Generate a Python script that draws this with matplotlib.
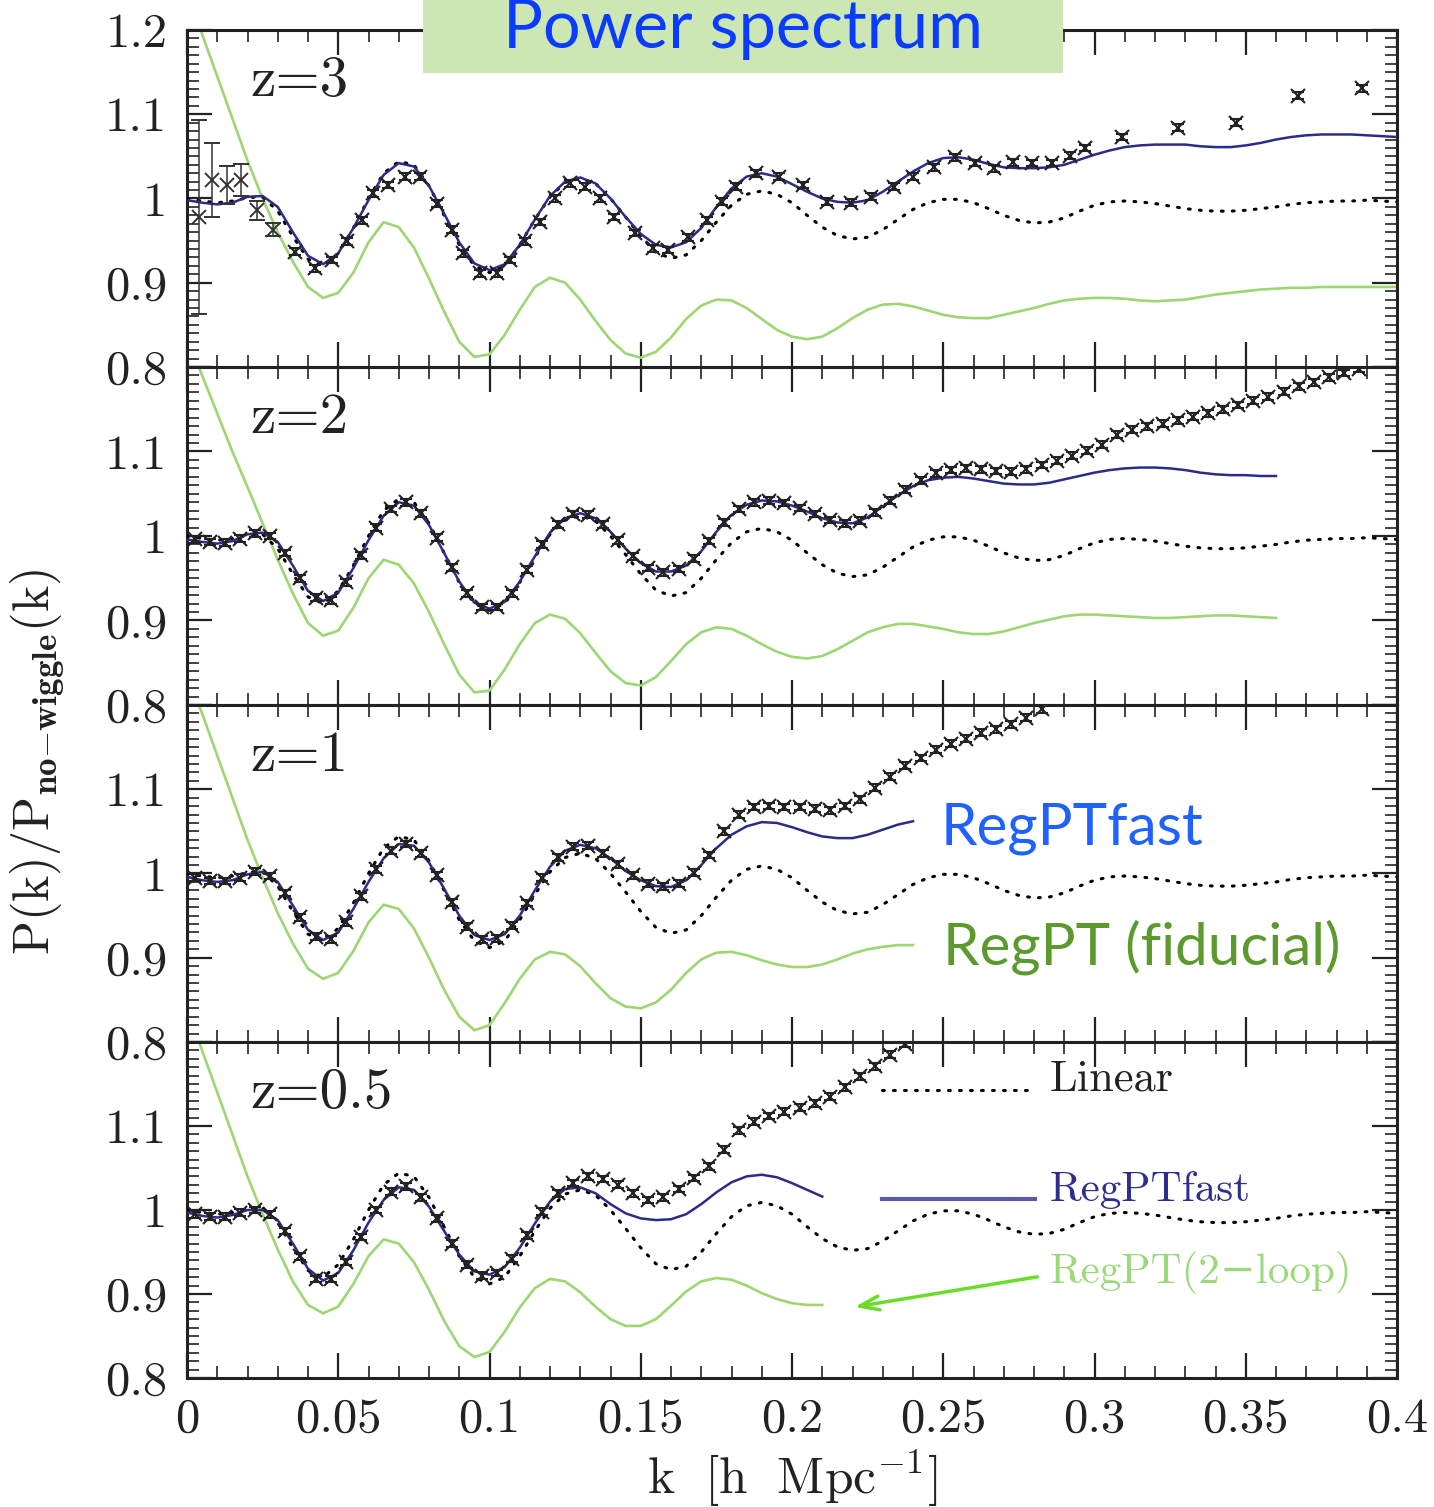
import matplotlib
matplotlib.use("Agg")
import matplotlib.pyplot as plt
from matplotlib.patches import Rectangle
from matplotlib.ticker import MultipleLocator, FixedLocator, FixedFormatter

plt.rcParams['mathtext.fontset'] = 'cm'
plt.rcParams['font.family'] = ['cmr10', 'DejaVu Serif']
plt.rcParams['axes.unicode_minus'] = False

# ---------------- data ----------------
K_GRID = [0.000, 0.005, 0.010, 0.015, 0.020, 0.025, 0.030, 0.035, 0.040, 0.045,
          0.050, 0.055, 0.060, 0.065, 0.070, 0.075, 0.080, 0.085, 0.090, 0.095,
          0.100, 0.105, 0.110, 0.115, 0.120, 0.125, 0.130, 0.135, 0.140, 0.145,
          0.150, 0.155, 0.160, 0.165, 0.170, 0.175, 0.180, 0.185, 0.190, 0.195,
          0.200, 0.205, 0.210, 0.215, 0.220, 0.225, 0.230, 0.235, 0.240, 0.245,
          0.250, 0.255, 0.260, 0.265, 0.270, 0.275, 0.280, 0.285, 0.290, 0.295,
          0.300, 0.305, 0.310, 0.315, 0.320, 0.325, 0.330, 0.335, 0.340, 0.345,
          0.350, 0.355, 0.360, 0.365, 0.370, 0.375, 0.380, 0.385, 0.390, 0.395,
          0.400]

D_GRID = [0.0025, 0.0075, 0.0125, 0.0175, 0.0225, 0.0275, 0.0325, 0.0375, 0.0425, 0.0475,
          0.0525, 0.0575, 0.0625, 0.0675, 0.0725, 0.0775, 0.0825, 0.0875, 0.0925, 0.0975,
          0.1025, 0.1075, 0.1125, 0.1175, 0.1225, 0.1275, 0.1325, 0.1375, 0.1425, 0.1475,
          0.1525, 0.1575, 0.1625, 0.1675, 0.1725, 0.1775, 0.1825, 0.1875, 0.1925, 0.1975,
          0.2025, 0.2075, 0.2125, 0.2175, 0.2225, 0.2275, 0.2325, 0.2375, 0.2425, 0.2475,
          0.2525, 0.2575, 0.2625, 0.2675, 0.2725, 0.2775, 0.2825, 0.2875, 0.2925, 0.2975,
          0.3025, 0.3075, 0.3125, 0.3175, 0.3225, 0.3275, 0.3325, 0.3375, 0.3425, 0.3475,
          0.3525, 0.3575, 0.3625, 0.3675, 0.3725, 0.3775, 0.3825, 0.3875, 0.3925, 0.3975]

LINEAR = [1.000, 0.997, 0.995, 0.997, 1.001, 1.002, 0.985, 0.955, 0.928, 0.920,
          0.935, 0.965, 1.000, 1.030, 1.044, 1.040, 1.015, 0.980, 0.945, 0.920,
          0.912, 0.920, 0.945, 0.975, 1.002, 1.019, 1.024, 1.018, 1.000, 0.978,
          0.955, 0.936, 0.929, 0.933, 0.950, 0.972, 0.992, 1.005, 1.009, 1.005,
          0.995, 0.980, 0.966, 0.956, 0.952, 0.954, 0.963, 0.975, 0.987, 0.995,
          0.999, 0.999, 0.995, 0.988, 0.980, 0.974, 0.971, 0.972, 0.977, 0.985,
          0.992, 0.996, 0.997, 0.996, 0.994, 0.991, 0.988, 0.986, 0.985, 0.985,
          0.986, 0.988, 0.990, 0.993, 0.995, 0.996, 0.997, 0.997, 0.998, 0.997,
          0.996]

# z = 3
BLUE_Z3 = [0.998, 0.995, 0.993, 0.995, 1.002, 1.003, 0.990, 0.960, 0.932, 0.922,
           0.935, 0.965, 0.998, 1.028, 1.042, 1.038, 1.015, 0.982, 0.948, 0.923,
           0.915, 0.922, 0.945, 0.975, 1.003, 1.020, 1.025, 1.018, 1.000, 0.978,
           0.958, 0.945, 0.942, 0.948, 0.965, 0.990, 1.012, 1.026, 1.030, 1.026,
           1.017, 1.008, 1.000, 0.996, 0.995, 0.998, 1.008, 1.020, 1.032, 1.042,
           1.048, 1.049, 1.046, 1.041, 1.037, 1.036, 1.036, 1.037, 1.040, 1.046,
           1.052, 1.057, 1.061, 1.063, 1.064, 1.064, 1.064, 1.062, 1.061, 1.061,
           1.063, 1.066, 1.070, 1.073, 1.075, 1.076, 1.076, 1.076, 1.075, 1.074,
           1.073]
GREEN_Z3 = [1.245, 1.195, 1.145, 1.095, 1.045, 1.000, 0.960, 0.925, 0.895, 0.882,
            0.888, 0.912, 0.948, 0.972, 0.966, 0.942, 0.905, 0.866, 0.830, 0.812,
            0.815, 0.838, 0.868, 0.895, 0.906, 0.900, 0.880, 0.855, 0.832, 0.816,
            0.811, 0.818, 0.835, 0.857, 0.873, 0.880, 0.879, 0.870, 0.857, 0.844,
            0.836, 0.833, 0.836, 0.846, 0.858, 0.868, 0.874, 0.875, 0.872, 0.867,
            0.862, 0.859, 0.858, 0.858, 0.862, 0.866, 0.870, 0.875, 0.879, 0.881,
            0.882, 0.882, 0.881, 0.879, 0.878, 0.879, 0.880, 0.883, 0.886, 0.888,
            0.890, 0.892, 0.893, 0.894, 0.894, 0.895, 0.895, 0.895, 0.895, 0.895,
            0.895]
DATA_K_Z3 = [0.004, 0.0083, 0.0132, 0.018, 0.023, 0.0285,
             0.0357, 0.0423, 0.0478, 0.0528, 0.0577, 0.0616, 0.0666, 0.0721, 0.077,
             0.0826, 0.0875, 0.0914, 0.0969, 0.1024, 0.1068, 0.1117, 0.1167, 0.1217,
             0.1266, 0.1316, 0.1365, 0.141, 0.148, 0.154, 0.159, 0.1657, 0.172, 0.177,
             0.1815, 0.188, 0.1957, 0.2036, 0.2116, 0.2195, 0.226, 0.2337, 0.240,
             0.247, 0.254, 0.2605, 0.2668, 0.273, 0.2793, 0.2858, 0.292, 0.2969,
             0.309, 0.3276, 0.3468, 0.3673, 0.3884]
DATA_Z3 = [0.978, 1.022, 1.016, 1.022, 0.986, 0.963,
           0.937, 0.917, 0.927, 0.949, 0.974, 1.006, 1.016, 1.026, 1.026,
           0.994, 0.963, 0.935, 0.911, 0.911, 0.927, 0.949, 0.972, 1.000,
           1.018, 1.014, 1.000, 0.978, 0.959, 0.941, 0.939, 0.954, 0.974, 0.996,
           1.014, 1.030, 1.026, 1.016, 0.996, 0.995, 1.002, 1.014, 1.026,
           1.037, 1.049, 1.042, 1.036, 1.043, 1.042, 1.042, 1.051, 1.060,
           1.073, 1.084, 1.090, 1.122, 1.131]
ERR_Z3_LOWK = [0.115, 0.044, 0.023, 0.019, 0.011, 0.008]

# z = 2
BLUE_Z2 = [0.996, 0.993, 0.991, 0.994, 1.002, 1.004, 0.993, 0.965, 0.935, 0.923,
           0.933, 0.962, 0.995, 1.024, 1.040, 1.036, 1.013, 0.980, 0.946, 0.921,
           0.914, 0.922, 0.946, 0.976, 1.004, 1.021, 1.027, 1.021, 1.005, 0.985,
           0.968, 0.958, 0.958, 0.965, 0.982, 1.005, 1.025, 1.037, 1.042, 1.041,
           1.036, 1.029, 1.021, 1.016, 1.015, 1.022, 1.035, 1.048, 1.059, 1.066,
           1.069, 1.070, 1.068, 1.065, 1.062, 1.061, 1.061, 1.063, 1.067, 1.071,
           1.075, 1.078, 1.080, 1.081, 1.081, 1.080, 1.078, 1.075, 1.073, 1.072,
           1.072, 1.071, 1.071]
GREEN_Z2 = [1.235, 1.190, 1.145, 1.100, 1.058, 1.015, 0.972, 0.932, 0.897, 0.882,
            0.888, 0.915, 0.950, 0.972, 0.966, 0.944, 0.910, 0.872, 0.836, 0.815,
            0.817, 0.842, 0.872, 0.897, 0.907, 0.902, 0.885, 0.862, 0.840, 0.826,
            0.823, 0.833, 0.852, 0.872, 0.886, 0.892, 0.890, 0.882, 0.872, 0.863,
            0.857, 0.855, 0.858, 0.866, 0.876, 0.886, 0.892, 0.896, 0.896, 0.893,
            0.890, 0.886, 0.884, 0.884, 0.887, 0.892, 0.897, 0.901, 0.905, 0.907,
            0.907, 0.906, 0.905, 0.904, 0.903, 0.903, 0.904, 0.905, 0.906, 0.906,
            0.905, 0.904, 0.903]
DATA_Z2 = [0.996, 0.993, 0.992, 0.997, 1.003, 1.000, 0.980, 0.950, 0.927, 0.924,
           0.945, 0.977, 1.010, 1.032, 1.040, 1.027, 0.998, 0.963, 0.932, 0.916,
           0.916, 0.932, 0.960, 0.990, 1.014, 1.026, 1.025, 1.014, 0.995, 0.976,
           0.962, 0.957, 0.961, 0.973, 0.994, 1.016, 1.032, 1.040, 1.042, 1.039,
           1.033, 1.026, 1.019, 1.015, 1.018, 1.028, 1.042, 1.055, 1.066, 1.074,
           1.078, 1.080, 1.079, 1.077, 1.076, 1.079, 1.084, 1.089, 1.095, 1.101,
           1.108, 1.120, 1.126, 1.130, 1.133, 1.137, 1.141, 1.145, 1.150, 1.155,
           1.160, 1.165, 1.171, 1.177, 1.182, 1.188, 1.193, 1.198]

# z = 1
BLUE_Z1 = [0.996, 0.992, 0.990, 0.992, 0.999, 1.002, 0.990, 0.962, 0.933, 0.921,
           0.930, 0.958, 0.990, 1.018, 1.035, 1.033, 1.013, 0.982, 0.950, 0.927,
           0.921, 0.928, 0.950, 0.980, 1.008, 1.027, 1.034, 1.030, 1.018, 1.003,
           0.992, 0.985, 0.984, 0.992, 1.010, 1.030, 1.046, 1.056, 1.061, 1.060,
           1.055, 1.049, 1.044, 1.042, 1.042, 1.046, 1.052, 1.058, 1.062]
GREEN_Z1 = [1.235, 1.190, 1.140, 1.090, 1.040, 0.995, 0.953, 0.917, 0.887, 0.875,
            0.882, 0.908, 0.942, 0.963, 0.958, 0.935, 0.900, 0.862, 0.830, 0.814,
            0.820, 0.846, 0.875, 0.898, 0.907, 0.904, 0.890, 0.870, 0.852, 0.842,
            0.840, 0.847, 0.862, 0.882, 0.898, 0.906, 0.907, 0.903, 0.897, 0.892,
            0.889, 0.889, 0.892, 0.898, 0.905, 0.910, 0.913, 0.915, 0.915]
DATA_Z1 = [0.995, 0.991, 0.991, 0.995, 1.002, 0.997, 0.977, 0.948, 0.925, 0.922,
           0.942, 0.973, 1.005, 1.027, 1.035, 1.024, 0.998, 0.966, 0.937, 0.922,
           0.923, 0.938, 0.965, 0.995, 1.019, 1.032, 1.033, 1.024, 1.011, 0.998,
           0.988, 0.985, 0.988, 1.001, 1.022, 1.050, 1.070, 1.079, 1.080, 1.079,
           1.079, 1.077, 1.075, 1.080, 1.088, 1.102, 1.115, 1.128, 1.137, 1.147,
           1.154, 1.160, 1.167, 1.171, 1.177, 1.185, 1.195]

# z = 0.5
BLUE_Z05 = [0.997, 0.993, 0.991, 0.994, 1.000, 1.000, 0.988, 0.960, 0.930, 0.916,
            0.925, 0.952, 0.985, 1.012, 1.027, 1.024, 1.004, 0.975, 0.947, 0.927,
            0.923, 0.932, 0.955, 0.984, 1.010, 1.025, 1.027, 1.020, 1.007, 0.996,
            0.990, 0.988, 0.989, 0.995, 1.007, 1.021, 1.033, 1.040, 1.042, 1.039,
            1.032, 1.024, 1.016]
GREEN_Z05 = [1.240, 1.190, 1.140, 1.090, 1.040, 0.995, 0.953, 0.915, 0.887, 0.877,
             0.885, 0.912, 0.945, 0.965, 0.960, 0.938, 0.905, 0.868, 0.838, 0.825,
             0.831, 0.855, 0.884, 0.907, 0.918, 0.915, 0.902, 0.885, 0.870, 0.862,
             0.862, 0.870, 0.886, 0.903, 0.915, 0.919, 0.917, 0.910, 0.901, 0.894,
             0.889, 0.887, 0.887]
DATA_Z05 = [0.995, 0.992, 0.992, 0.997, 1.000, 0.995, 0.975, 0.945, 0.918, 0.918,
            0.938, 0.968, 1.000, 1.022, 1.028, 1.015, 0.990, 0.960, 0.935, 0.922,
            0.925, 0.942, 0.970, 0.998, 1.020, 1.032, 1.040, 1.037, 1.030, 1.020,
            1.012, 1.015, 1.025, 1.038, 1.052, 1.072, 1.095, 1.105, 1.112, 1.117,
            1.122, 1.127, 1.135, 1.146, 1.159, 1.171, 1.185, 1.198]

PANEL_LABELS = ['z=3', 'z=2', 'z=1', 'z=0.5']
X_TICKS = [0, 0.05, 0.1, 0.15, 0.2, 0.25, 0.3, 0.35, 0.4]
X_TICK_LABELS = ['0', '0.05', '0.1', '0.15', '0.2', '0.25', '0.3', '0.35', '0.4']
Y_TICKS = [0.8, 0.9, 1.0, 1.1, 1.2]
Y_TICK_LABELS = ['0.8', '0.9', '1', '1.1', '1.2']

# ---------------- styling ----------------
C_BLUE = '#2c2c88'
C_GREEN = '#9dd672'
W, H = 1434, 1507
fig = plt.figure(figsize=(W / 100, H / 100), dpi=100)

left_px, right_px = 187, 1397
panel_top = [30, 367, 705, 1042]
panel_h = [337, 338, 337, 336]

panels = [
    dict(blue=BLUE_Z3, green=GREEN_Z3, dk=DATA_K_Z3, dv=DATA_Z3),
    dict(blue=BLUE_Z2, green=GREEN_Z2, dk=D_GRID[:len(DATA_Z2)], dv=DATA_Z2),
    dict(blue=BLUE_Z1, green=GREEN_Z1, dk=D_GRID[:len(DATA_Z1)], dv=DATA_Z1),
    dict(blue=BLUE_Z05, green=GREEN_Z05, dk=D_GRID[:len(DATA_Z05)], dv=DATA_Z05),
]

axes = []
for i, p in enumerate(panels):
    t = panel_top[i]
    hpx = panel_h[i]
    ax = fig.add_axes([left_px / W, 1 - (t + hpx) / H, (right_px - left_px) / W, hpx / H])
    axes.append(ax)
    ax.set_xlim(0, 0.4)
    ax.set_ylim(0.8, 1.2)

    ax.plot(K_GRID[:len(p['green'])], p['green'], color=C_GREEN, lw=1.9, zorder=2,
            solid_joinstyle='round')
    ax.plot(K_GRID, LINEAR, color='black', lw=2.2, linestyle=(0, (0.6, 3.0)),
            dash_capstyle='round', zorder=3)
    ax.plot(K_GRID[:len(p['blue'])], p['blue'], color=C_BLUE, lw=1.8, zorder=4,
            solid_joinstyle='round')

    if i == 0:
        ax.errorbar(p['dk'][:6], p['dv'][:6], yerr=ERR_Z3_LOWK, fmt='x', color='#333333',
                    ms=10, mew=1.4, elinewidth=1.1, capsize=6, capthick=1.1, zorder=5)
        ax.errorbar(p['dk'][6:], p['dv'][6:], yerr=0.004, fmt='x', color='#222222',
                    ms=10, mew=1.5, elinewidth=1.0, capsize=4.5, capthick=1.2, zorder=5)
    else:
        ax.errorbar(p['dk'], p['dv'], yerr=0.004, fmt='x', color='#222222',
                    ms=10, mew=1.5, elinewidth=1.0, capsize=4.5, capthick=1.2, zorder=5)

    ax.text(0.021, 1.139, PANEL_LABELS[i], fontsize=41, family=['cmr10', 'DejaVu Serif'],
            va='center', ha='left', color='#222222', zorder=6)

    ax.xaxis.set_major_locator(FixedLocator(X_TICKS))
    ax.xaxis.set_minor_locator(MultipleLocator(0.01))
    ax.yaxis.set_major_locator(FixedLocator(Y_TICKS))
    ax.yaxis.set_minor_locator(MultipleLocator(0.01))
    ax.tick_params(which='both', direction='in', top=True, right=True, colors='#222222')
    ax.tick_params(which='major', length=18, width=1.6, labelsize=35, pad=14)
    ax.tick_params(which='minor', length=8.5, width=1.2)
    ylabels = list(Y_TICK_LABELS)
    if i > 0:
        ylabels[-1] = ''
    ax.yaxis.set_major_formatter(FixedFormatter(ylabels))
    if i == 3:
        ax.xaxis.set_major_formatter(FixedFormatter(X_TICK_LABELS))
    else:
        ax.set_xticklabels([])
    for s in ax.spines.values():
        s.set_linewidth(2.2)
        s.set_color('#222222')

# annotations in z=1 panel
ax3 = axes[2]
ax3.text(0.249, 1.054, 'RegPTfast', family='Lato', fontsize=42, color='#1f62ff',
         va='center', ha='left', zorder=7)
ax3.text(0.250, 0.913, 'RegPT (fiducial)', family='Lato', fontsize=42, color='#5c9a2e',
         va='center', ha='left', zorder=7)

# legend in z=0.5 panel
ax4 = axes[3]
ax4.plot([0.2298, 0.2803], [1.143, 1.143], color='black', lw=2.2,
         linestyle=(0, (0.6, 3.0)), dash_capstyle='round')
ax4.text(0.2853, 1.155, 'Linear', fontsize=32, color='#222222', va='center', ha='left')
ax4.plot([0.2298, 0.2803], [1.0136, 1.0136], color='#5a5aa8', lw=3.0)
ax4.text(0.2853, 1.024, 'RegPTfast', fontsize=31, color='#2e2e8e', va='center', ha='left')
ax4.text(0.2853, 0.926, 'RegPT(2\u2212loop)', fontsize=31, color='#9bd97a', va='center',
         ha='left', family=['cmr10', 'DejaVu Serif'])
ax4.annotate('', xy=(0.2198, 0.884), xytext=(0.282, 0.921),
             arrowprops=dict(arrowstyle='->,head_length=1.4,head_width=0.5',
                             color='#6add2a', lw=2.5))

# axis labels
fig.text(792 / W, 1 - 1478 / H, r'$\mathrm{k\ \ [h\ \ Mpc^{-1}]}$', fontsize=37,
         ha='center', va='center', color='#222222')
fig.text(38 / W, 1 - 762 / H, r'$\mathrm{P(k)/P_{\mathbf{no{-}wiggle}}(k)}$', fontsize=36,
         rotation=90, ha='center', va='center', color='#222222')

# title box
box = Rectangle((423 / W, 1 - 73 / H), (1063 - 423) / W, 73 / H, transform=fig.transFigure,
                facecolor='#cce6b4', edgecolor='none', zorder=10)
fig.add_artist(box)
fig.text(743 / W, 1 - 48 / H, 'Power spectrum', family='Lato', fontsize=48,
         color='#0a3cff', ha='center', va='baseline', zorder=11)

fig.savefig('out.png', dpi=100, facecolor='white')
